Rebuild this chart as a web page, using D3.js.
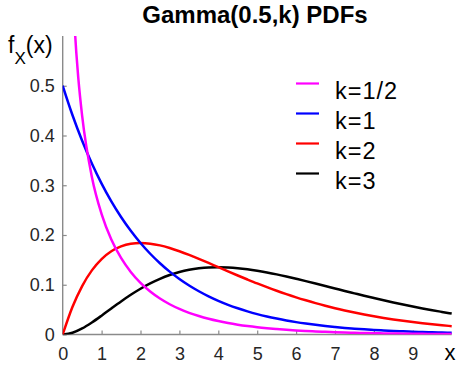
<!DOCTYPE html>
<html><head><meta charset="utf-8">
<script src="https://cdn.jsdelivr.net/npm/d3@7"></script>
<style>
html,body{margin:0;padding:0;background:#fff;}
svg{display:block;font-family:"Liberation Sans",Arial,Helvetica,sans-serif;}
</style></head>
<body>
<svg id="c" width="458" height="365"></svg>
<script>
const xs = [0,0.25,0.5,0.75,1,1.25,1.5,1.75,2,2.25,2.5,2.75,3,3.25,3.5,3.75,4,4.25,4.5,4.75,5,5.25,5.5,5.75,6,6.25,6.5,6.75,7,7.25,7.5,7.75,8,8.25,8.5,8.75,9,9.25,9.5,9.75,10];
const xsHalf = [0.25,0.3,0.35,0.4,0.5,0.75,1,1.25,1.5,1.75,2,2.25,2.5,2.75,3,3.25,3.5,3.75,4,4.25,4.5,4.75,5,5.25,5.5,5.75,6,6.25,6.5,6.75,7,7.25,7.5,7.75,8,8.25,8.5,8.75,9,9.25,9.5,9.75,10];
const kHalf = [0.7041,0.6269,0.5661,0.5164,0.4394,0.3166,0.2420,0.1910,0.1539,0.1257,0.1038,0.0864,0.0723,0.0608,0.0514,0.0436,0.0371,0.0316,0.0270,0.0231,0.0198,0.0170,0.0146,0.0126,0.0109,0.0094,0.0081,0.0070,0.0061,0.0053,0.0046,0.0039,0.0034,0.0030,0.0026,0.0022,0.0020,0.0017,0.0015,0.0013,0.0011,0.0010,0.0009];
const k1 = [0.5,0.4412,0.3894,0.3436,0.3033,0.2676,0.2362,0.2084,0.1839,0.1623,0.1433,0.1264,0.1116,0.0985,0.0869,0.0767,0.0677,0.0597,0.0527,0.0465,0.0410,0.0362,0.0320,0.0282,0.0249,0.0220,0.0194,0.0171,0.0151,0.0133,0.0118,0.0104,0.0092,0.0081,0.0071,0.0063,0.0056,0.0049,0.0043,0.0038,0.0034];
const k2 = [0,0.0552,0.0974,0.1289,0.1516,0.1673,0.1771,0.1824,0.1839,0.1826,0.1791,0.1738,0.1673,0.1600,0.1521,0.1438,0.1353,0.1269,0.1186,0.1105,0.1026,0.0951,0.0879,0.0811,0.0747,0.0687,0.0630,0.0577,0.0528,0.0483,0.0441,0.0402,0.0366,0.0333,0.0303,0.0275,0.0250,0.0227,0.0205,0.0186,0.0168];
const k3 = [0,0.0034,0.0122,0.0242,0.0379,0.0523,0.0664,0.0798,0.0920,0.1027,0.1119,0.1195,0.1255,0.1300,0.1330,0.1348,0.1353,0.1348,0.1334,0.1312,0.1283,0.1248,0.1209,0.1166,0.1120,0.1073,0.1024,0.0974,0.0925,0.0875,0.0827,0.0779,0.0733,0.0688,0.0644,0.0602,0.0562,0.0524,0.0488,0.0454,0.0421];
const seriesNames = ["k=1/2","k=1","k=2","k=3"];
const seriesColors = ["#ff00ff","#0000ff","#ff0000","#000000"];
const xTicks = [0,1,2,3,4,5,6,7,8,9];
const yTicks = [0,0.1,0.2,0.3,0.4,0.5];

const series = [
  {name:seriesNames[0], color:seriesColors[0], xv:xsHalf, yv:kHalf},
  {name:seriesNames[1], color:seriesColors[1], xv:xs, yv:k1},
  {name:seriesNames[2], color:seriesColors[2], xv:xs, yv:k2},
  {name:seriesNames[3], color:seriesColors[3], xv:xs, yv:k3}
];

const svg = d3.select("#c");
const L=62.7, R=451.7, T=36, B=334.5;
const x = d3.scaleLinear().domain([0,10]).range([L,R]);
const y = d3.scaleLinear().domain([0,0.6]).range([B,T]);
const axisColor = "#8a8a8a", textColor = "#262626";

svg.append("defs").append("clipPath").attr("id","clip")
  .append("rect").attr("x",L).attr("y",T).attr("width",R-L+2).attr("height",B-T);

// axes
const xa = svg.append("g").attr("transform",`translate(0,${B})`)
  .call(d3.axisBottom(x).tickValues(xTicks).tickSize(-4).tickPadding(13).tickFormat(d3.format("d")));
const ya = svg.append("g").attr("transform",`translate(${L},0)`)
  .call(d3.axisLeft(y).tickValues(yTicks).tickSize(-4).tickPadding(8).tickFormat(d=>d===0?"0":d3.format(".1f")(d)));
[xa,ya].forEach(g=>{
  g.select(".domain").attr("stroke",axisColor).attr("stroke-width",1.4);
  g.selectAll(".tick line").attr("stroke",axisColor).attr("stroke-width",1.2);
  g.selectAll(".tick text").attr("fill",textColor).style("font-size","18px").style("font-family","'Liberation Sans',Arial,sans-serif");
});
xa.select(".domain").attr("d",`M${L},0H${R}`);
ya.select(".domain").attr("d",`M0,${B}V${T}`);

// curves
const line = d3.line().curve(d3.curveMonotoneX);
const g = svg.append("g").attr("clip-path","url(#clip)");
series.slice().reverse().forEach(s=>{
  g.append("path")
   .attr("d", line(s.xv.map((v,i)=>[x(v), y(s.yv[i])])))
   .attr("fill","none").attr("stroke",s.color).attr("stroke-width",2.5)
   .attr("stroke-linejoin","round").attr("stroke-linecap","butt");
});

// title
svg.append("text").attr("x",255).attr("y",23).attr("text-anchor","middle")
  .attr("font-weight","bold").style("font-size","24px").attr("fill","#000")
  .text("Gamma(0.5,k) PDFs");

// y label f_X(x)
const yl = svg.append("text").attr("x",8).attr("y",53).style("font-size","23px").attr("fill","#000");
yl.append("tspan").text("f");
yl.append("tspan").attr("dy",11).style("font-size","17px").text("X");
yl.append("tspan").attr("dy",-11).text("(x)");

// x label
svg.append("text").attr("x",450).attr("y",360).attr("text-anchor","middle")
  .style("font-size","22px").attr("fill","#000").text("x");

// legend
const lg = svg.append("g");
series.forEach((s,i)=>{
  const yy = 83.5 + i*30;
  lg.append("line").attr("x1",296).attr("x2",319).attr("y1",yy).attr("y2",yy)
    .attr("stroke",s.color).attr("stroke-width",2.2);
  lg.append("text").attr("x",335).attr("y",yy+15)
    .style("font-size","23.5px").style("letter-spacing","1px").attr("fill","#000").text(s.name);
});
</script>
</body></html>
